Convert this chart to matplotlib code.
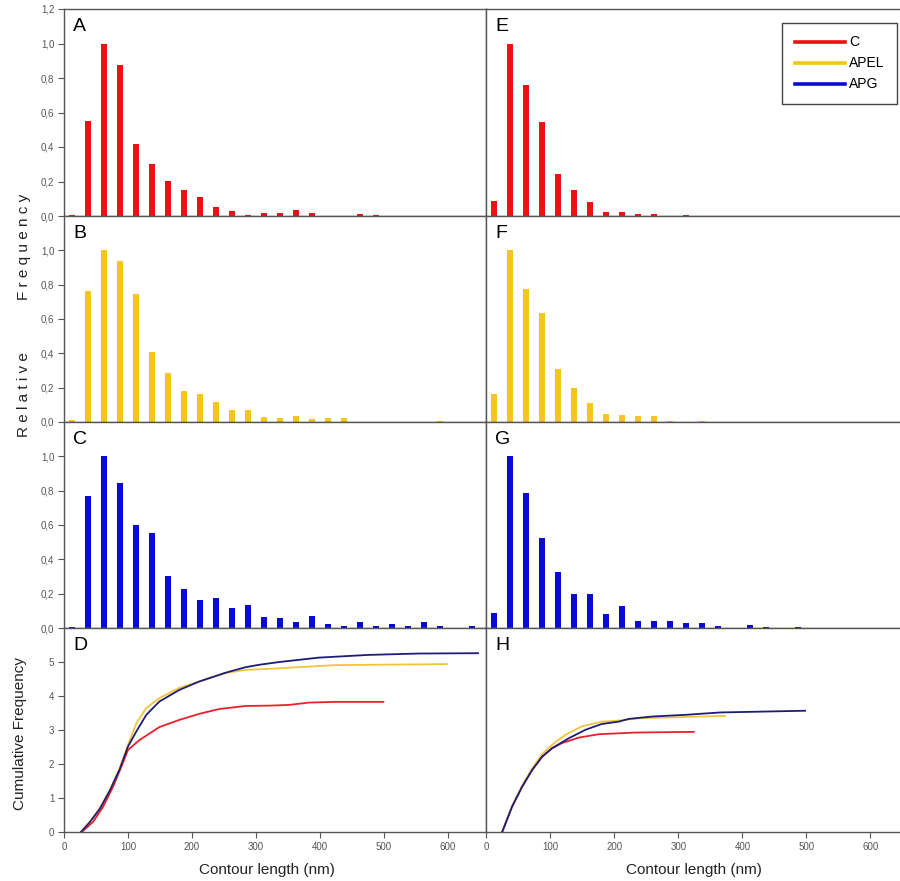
import matplotlib
matplotlib.use("Agg")
import matplotlib.pyplot as plt
from matplotlib.lines import Line2D
from matplotlib.ticker import FuncFormatter

plt.rcParams["font.family"] = ["Liberation Sans", "DejaVu Sans"]

# bin centres of the contour length histograms (nm)
bins = [12.5, 37.5, 62.5, 87.5, 112.5, 137.5, 162.5, 187.5, 212.5, 237.5,
        262.5, 287.5, 312.5, 337.5, 362.5, 387.5, 412.5, 437.5, 462.5, 487.5,
        512.5, 537.5, 562.5, 587.5, 612.5, 637.5]

# relative frequencies, left column (A, B, C)
rel_c_left = [0.005, 0.55, 1.0, 0.876, 0.418, 0.302, 0.203, 0.149, 0.108, 0.054,
              0.029, 0.008, 0.015, 0.017, 0.033, 0.017, 0, 0, 0.013, 0.006,
              0, 0, 0, 0, 0, 0]
rel_apel_left = [0.01, 0.763, 1.0, 0.936, 0.743, 0.41, 0.286, 0.181, 0.161, 0.115,
                 0.072, 0.072, 0.027, 0.023, 0.033, 0.019, 0.023, 0.023, 0, 0,
                 0, 0, 0, 0.004, 0, 0]
rel_apg_left = [0.008, 0.768, 1.0, 0.847, 0.599, 0.556, 0.305, 0.226, 0.163, 0.175,
                0.114, 0.136, 0.063, 0.057, 0.035, 0.071, 0.022, 0.01, 0.037, 0.01,
                0.024, 0.01, 0.037, 0.01, 0, 0.01]

# relative frequencies, right column (E, F, G)
rel_c_right = [0.085, 1.0, 0.762, 0.543, 0.244, 0.151, 0.079, 0.025, 0.025, 0.01,
               0.013, 0, 0.008, 0, 0, 0, 0, 0, 0, 0,
               0, 0, 0, 0, 0, 0]
rel_apel_right = [0.165, 1.0, 0.772, 0.634, 0.309, 0.198, 0.111, 0.045, 0.039, 0.033,
                  0.033, 0.005, 0, 0.004, 0, 0, 0, 0, 0, 0,
                  0, 0, 0, 0, 0, 0]
rel_apg_right = [0.086, 1.0, 0.784, 0.525, 0.328, 0.196, 0.196, 0.079, 0.13, 0.039,
                 0.039, 0.039, 0.028, 0.028, 0.012, 0, 0.018, 0.008, 0, 0.006,
                 0, 0, 0, 0, 0, 0]

# cumulative frequency curves, panel D
cum_c_left_x = [27.5, 45.6, 61, 76.7, 89.7, 100, 118, 149, 180, 211.5, 242.6, 284,
                320, 351, 383, 424, 499]
cum_c_left_y = [0, 0.31, 0.75, 1.34, 1.93, 2.42, 2.71, 3.09, 3.30, 3.48, 3.62, 3.71,
                3.72, 3.74, 3.81, 3.83, 3.83]
cum_apel_left_x = [26, 40.4, 56, 71.5, 87, 100, 113, 128.6, 149, 180, 211.5, 253,
                   284, 320, 424, 598]
cum_apel_left_y = [0, 0.31, 0.71, 1.24, 1.88, 2.57, 3.2, 3.65, 3.94, 4.24, 4.43, 4.68,
                   4.77, 4.80, 4.91, 4.94]
cum_apg_left_x = [26, 40.4, 56, 71.5, 87, 100, 113, 128.6, 149, 180, 211.5, 253,
                  284, 305, 336, 398, 476, 554, 647]
cum_apg_left_y = [0, 0.3, 0.69, 1.22, 1.85, 2.52, 2.96, 3.45, 3.84, 4.18, 4.43, 4.69,
                  4.85, 4.92, 5.0, 5.13, 5.21, 5.25, 5.26]

# cumulative frequency curves, panel H
cum_c_right_x = [24.5, 40, 55.8, 71.4, 87, 102.7, 118, 144, 175.5, 233, 324]
cum_c_right_y = [0, 0.75, 1.34, 1.83, 2.22, 2.47, 2.62, 2.78, 2.88, 2.93, 2.95]
cum_apel_right_x = [24.5, 40, 55.8, 71.4, 87, 102.7, 123, 149, 180, 206.7, 240, 300, 373]
cum_apel_right_y = [0, 0.77, 1.37, 1.87, 2.3, 2.57, 2.86, 3.11, 3.25, 3.28, 3.35, 3.38, 3.42]
cum_apg_right_x = [24.5, 40, 55.8, 71.4, 87, 102.7, 128.6, 154.7, 180, 206.7, 222.4,
                   259, 311, 365.6, 498]
cum_apg_right_y = [0, 0.75, 1.34, 1.83, 2.22, 2.47, 2.76, 3.01, 3.18, 3.25, 3.33,
                   3.40, 3.45, 3.52, 3.57]

series = ["C", "APEL", "APG"]
bar_colors = ["#ee1111", "#f5c518", "#0a0ad8"]
line_colors = ["#e8202a", "#f2c43a", "#1c1c7a"]

W, H = 900, 881
fig = plt.figure(figsize=(W / 100, H / 100), dpi=100)


def box(x0, y0, x1, y1):
    return [x0 / W, 1 - y1 / H, (x1 - x0) / W, (y1 - y0) / H]


rows = [9, 216, 422, 628, 832.3]
cols = [(64, 486.4), (486.4, 908.8)]
xmax = 660
comma = FuncFormatter(lambda v, p: f"{v:.1f}".replace(".", ","))

hist = [[rel_c_left, rel_apel_left, rel_apg_left],
        [rel_c_right, rel_apel_right, rel_apg_right]]
cum = [[(cum_c_left_x, cum_c_left_y), (cum_apel_left_x, cum_apel_left_y),
        (cum_apg_left_x, cum_apg_left_y)],
       [(cum_c_right_x, cum_c_right_y), (cum_apel_right_x, cum_apel_right_y),
        (cum_apg_right_x, cum_apg_right_y)]]
letters = [["A", "B", "C", "D"], ["E", "F", "G", "H"]]


def style(ax):
    for s in ax.spines.values():
        s.set_color("#555555")
        s.set_linewidth(1.0)
    ax.tick_params(direction="out", length=4, width=0.8, colors="#555555",
                   labelsize=7, pad=3)
    ax.set_xlim(0, xmax)


for c, (x0, x1) in enumerate(cols):
    for r in range(3):
        ax = fig.add_axes(box(x0, rows[r], x1, rows[r + 1]))
        style(ax)
        ax.bar(bins, hist[c][r], width=9.5, color=bar_colors[r], linewidth=0)
        ax.set_ylim(0, 1.2)
        ax.set_yticks([0, 0.2, 0.4, 0.6, 0.8, 1.0, 1.2] if r == 0
                      else [0, 0.2, 0.4, 0.6, 0.8, 1.0])
        ax.yaxis.set_major_formatter(comma)
        ax.tick_params(axis="x", bottom=False, labelbottom=False)
        if c == 1:
            ax.tick_params(axis="y", left=False, labelleft=False)
        ax.text(9 / (x1 - x0), 1 - 9 / (rows[r + 1] - rows[r]), letters[c][r],
                transform=ax.transAxes, ha="left", va="top", fontsize=14)

    ax = fig.add_axes(box(x0, rows[3], x1, rows[4]))
    style(ax)
    for i in range(3):
        xs, ys = cum[c][i]
        ax.plot(xs, ys, color=line_colors[i], linewidth=1.3)
    ax.set_ylim(0, 6)
    ax.set_yticks(range(6))
    ax.set_xticks(range(0, 700, 100))
    if c == 1:
        ax.tick_params(axis="y", left=False, labelleft=False)
    ax.text(9 / (x1 - x0), 1 - 9 / (rows[4] - rows[3]), letters[c][3],
            transform=ax.transAxes, ha="left", va="top", fontsize=14)

# legend in panel E
handles = [Line2D([], [], color=bar_colors[i], linewidth=2.6) for i in range(3)]
fig.legend(handles, series, loc="upper right", bbox_to_anchor=(897 / W, 1 - 23 / H),
           fontsize=10, frameon=True, fancybox=False, edgecolor="#444444",
           framealpha=1, handlelength=3.6, handletextpad=0.3, labelspacing=0.5,
           borderpad=0.9, borderaxespad=0)

fig.text(24 / W, 1 - 395 / H, "R e l a t i v e", rotation=90, ha="center",
         va="center", fontsize=11, color="#222222")
fig.text(24 / W, 1 - 247 / H, "F r e q u e n c y", rotation=90, ha="center",
         va="center", fontsize=11, color="#222222")
fig.text(20 / W, 1 - 733 / H, "Cumulative Frequency", rotation=90, ha="center",
         va="center", fontsize=11, color="#222222")
fig.text(267 / W, 1 - 870 / H, "Contour length (nm)", ha="center", va="center",
         fontsize=11, color="#222222")
fig.text(694 / W, 1 - 870 / H, "Contour length (nm)", ha="center", va="center",
         fontsize=11, color="#222222")

fig.savefig("out.png", dpi=100)
